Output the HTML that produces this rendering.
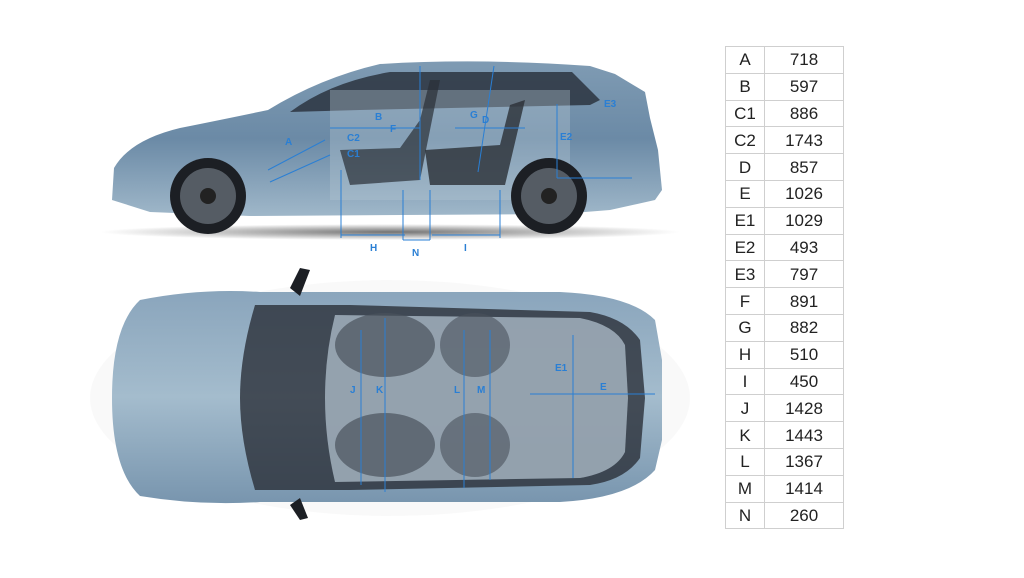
<!DOCTYPE html>
<html><head><meta charset="utf-8"><style>
html,body{margin:0;padding:0;background:#fff;width:1024px;height:578px;overflow:hidden;font-family:"Liberation Sans",sans-serif}
table{position:absolute;left:725px;top:46px;border-collapse:collapse}
td{border:1px solid #cfcfcf;height:25.8px;padding:0;text-align:center;font-size:17px;color:#222;line-height:25px}
td.a{width:38px}td.b{width:78px}
svg{position:absolute;left:0;top:0}
.l{fill:#2a7fd4;font-size:10px;font-weight:bold;font-family:"Liberation Sans",sans-serif}
</style></head><body>
<svg width="1024" height="578" viewBox="0 0 1024 578">
<defs>
<linearGradient id="bd" x1="0" y1="0" x2="0" y2="1"><stop offset="0" stop-color="#7f9bb3"/><stop offset=".5" stop-color="#6b8aa6"/><stop offset="1" stop-color="#9fb7c9"/></linearGradient>
<linearGradient id="tp" x1="0" y1="0" x2="0" y2="1"><stop offset="0" stop-color="#8aa5bc"/><stop offset=".5" stop-color="#a4bccd"/><stop offset="1" stop-color="#7895ae"/></linearGradient>
<radialGradient id="sh"><stop offset="0" stop-color="#000" stop-opacity=".55"/><stop offset="1" stop-color="#000" stop-opacity="0"/></radialGradient>
</defs>
<ellipse cx="390" cy="232" rx="290" ry="8" fill="url(#sh)"/>
<path d="M112,200 L114,168 Q130,140 180,128 Q230,118 268,110 Q320,78 380,64 Q480,58 590,66 L615,74 L645,92 L650,118 L658,150 L662,190 L655,200 L610,210 L560,214 L250,216 L150,212 Z" fill="url(#bd)"/>
<path d="M290,112 Q330,82 390,72 L572,72 L600,100 L590,105 L360,110 Z" fill="#2c3440" opacity=".85"/>
<rect x="330" y="90" width="240" height="110" fill="#b8c8d4" opacity=".35"/>
<path d="M340,150 L400,148 L420,120 L430,80 L440,80 L420,180 L350,185 Z" fill="#2a2f36" opacity=".7"/>
<path d="M425,150 L500,145 L510,105 L525,100 L505,185 L430,185 Z" fill="#2a2f36" opacity=".8"/>
<circle cx="208" cy="196" r="38" fill="#1c1f24"/><circle cx="208" cy="196" r="28" fill="#555c64"/><circle cx="208" cy="196" r="8" fill="#222"/>
<circle cx="549" cy="196" r="38" fill="#1c1f24"/><circle cx="549" cy="196" r="28" fill="#555c64"/><circle cx="549" cy="196" r="8" fill="#222"/>
<g stroke="#2a7fd4" stroke-width="1" fill="none">
<line x1="341" y1="170" x2="341" y2="238"/><line x1="341" y1="235" x2="405" y2="235"/><line x1="403" y1="190" x2="403" y2="240"/><line x1="403" y1="240" x2="430" y2="240"/><line x1="430" y1="190" x2="430" y2="240"/><line x1="432" y1="235" x2="500" y2="235"/><line x1="500" y1="190" x2="500" y2="238"/>
<line x1="268" y1="170" x2="325" y2="140"/><line x1="270" y1="182" x2="330" y2="155"/><line x1="330" y1="128" x2="420" y2="128"/><line x1="455" y1="128" x2="525" y2="128"/><line x1="557" y1="104" x2="557" y2="178"/><line x1="557" y1="178" x2="632" y2="178"/><line x1="420" y1="66" x2="420" y2="180"/><line x1="494" y1="66" x2="478" y2="172"/>
</g>
<text class="l" x="285" y="145">A</text><text class="l" x="375" y="120">B</text><text class="l" x="347" y="141">C2</text><text class="l" x="347" y="157">C1</text><text class="l" x="390" y="132">F</text><text class="l" x="470" y="118">G</text><text class="l" x="482" y="123">D</text><text class="l" x="560" y="140">E2</text><text class="l" x="604" y="107">E3</text>
<text class="l" x="370" y="251">H</text><text class="l" x="412" y="256">N</text><text class="l" x="464" y="251">I</text>
<ellipse cx="390" cy="398" rx="300" ry="118" fill="#000" opacity=".025"/>
<path d="M140,300 Q200,288 260,292 L560,292 Q630,295 655,320 L662,360 L662,440 L655,470 Q630,498 560,502 L260,502 Q200,506 140,496 Q112,470 112,398 Q112,326 140,300 Z" fill="url(#tp)"/>
<path d="M255,305 L350,305 L590,312 Q625,318 640,340 L645,398 L640,458 Q625,480 590,485 L350,490 L255,490 Q240,440 240,398 Q240,355 255,305 Z" fill="#2b3038" opacity=".8"/>
<path d="M335,315 L580,318 Q615,325 625,345 L628,398 L625,452 Q615,472 580,478 L335,482 Q325,440 325,398 Q325,355 335,315 Z" fill="#a9b8c4" opacity=".8"/>
<ellipse cx="385" cy="345" rx="50" ry="32" fill="#4a525c" opacity=".7"/><ellipse cx="385" cy="445" rx="50" ry="32" fill="#4a525c" opacity=".7"/>
<ellipse cx="475" cy="345" rx="35" ry="32" fill="#4a525c" opacity=".6"/><ellipse cx="475" cy="445" rx="35" ry="32" fill="#4a525c" opacity=".6"/>
<path d="M290,288 L300,268 L310,270 L300,296 Z" fill="#1c1f24"/><path d="M290,505 L300,520 L308,518 L300,498 Z" fill="#1c1f24"/>
<g stroke="#2a7fd4" stroke-width="1" fill="none">
<line x1="361" y1="330" x2="361" y2="485"/><line x1="385" y1="318" x2="385" y2="492"/><line x1="464" y1="330" x2="464" y2="488"/><line x1="490" y1="330" x2="490" y2="480"/><line x1="573" y1="335" x2="573" y2="478"/><line x1="530" y1="394" x2="655" y2="394"/>
</g>
<text class="l" x="350" y="393">J</text><text class="l" x="376" y="393">K</text><text class="l" x="454" y="393">L</text><text class="l" x="477" y="393">M</text><text class="l" x="555" y="371">E1</text><text class="l" x="600" y="390">E</text>
</svg>
<table>
<tr><td class="a">A</td><td class="b">718</td></tr>
<tr><td class="a">B</td><td class="b">597</td></tr>
<tr><td class="a">C1</td><td class="b">886</td></tr>
<tr><td class="a">C2</td><td class="b">1743</td></tr>
<tr><td class="a">D</td><td class="b">857</td></tr>
<tr><td class="a">E</td><td class="b">1026</td></tr>
<tr><td class="a">E1</td><td class="b">1029</td></tr>
<tr><td class="a">E2</td><td class="b">493</td></tr>
<tr><td class="a">E3</td><td class="b">797</td></tr>
<tr><td class="a">F</td><td class="b">891</td></tr>
<tr><td class="a">G</td><td class="b">882</td></tr>
<tr><td class="a">H</td><td class="b">510</td></tr>
<tr><td class="a">I</td><td class="b">450</td></tr>
<tr><td class="a">J</td><td class="b">1428</td></tr>
<tr><td class="a">K</td><td class="b">1443</td></tr>
<tr><td class="a">L</td><td class="b">1367</td></tr>
<tr><td class="a">M</td><td class="b">1414</td></tr>
<tr><td class="a">N</td><td class="b">260</td></tr>
</table>
</body></html>
